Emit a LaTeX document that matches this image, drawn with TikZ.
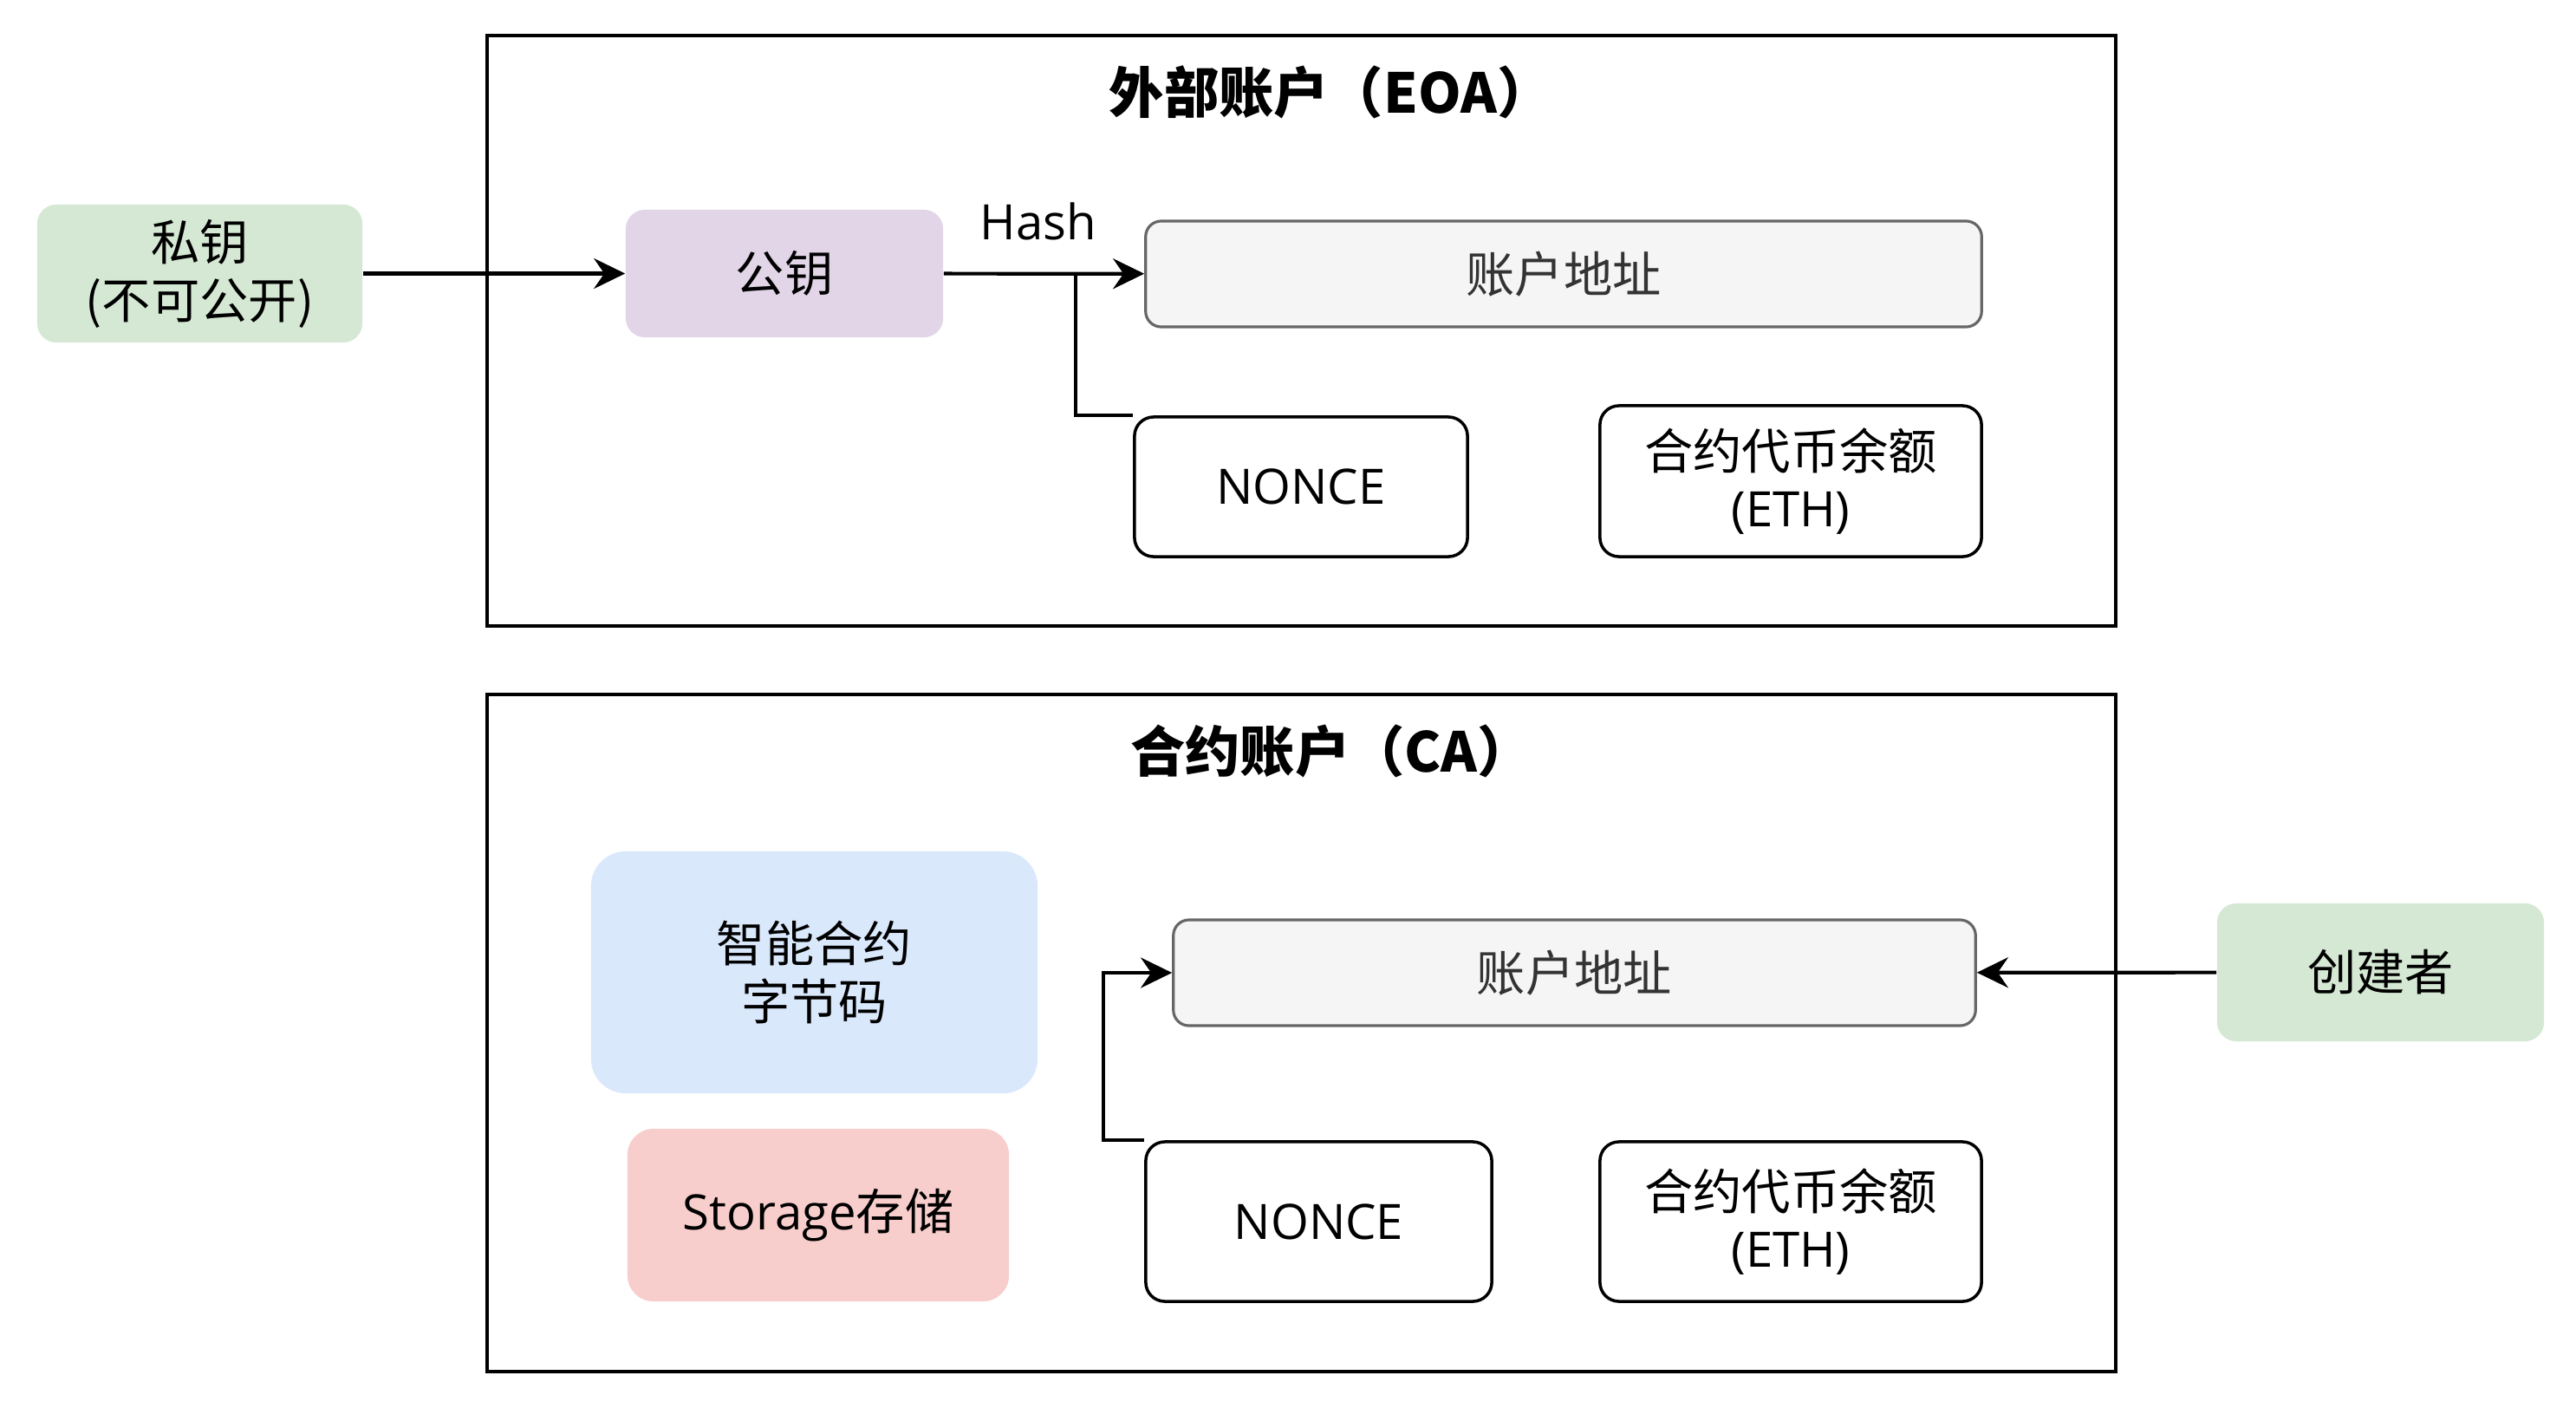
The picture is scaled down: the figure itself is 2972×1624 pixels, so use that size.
\documentclass[tikz,border=0pt]{standalone}
\usepackage{fontspec}
\setmainfont{Noto Sans CJK SC}
\newfontfamily\latinfont{Open Sans}
\usepackage{xcolor}
\usetikzlibrary{arrows.meta, positioning}

\definecolor{keygreen}{HTML}{D5E8D4}
\definecolor{keypurple}{HTML}{E1D5E7}
\definecolor{codeblue}{HTML}{DAE8FC}
\definecolor{storered}{HTML}{F8CECC}
\definecolor{addrfill}{HTML}{F5F5F5}
\definecolor{addrline}{HTML}{666666}
\definecolor{addrtext}{HTML}{333333}

\begin{document}
\begin{tikzpicture}[x=0.01cm, y=-0.01cm,
    every node/.style={font=\fontsize{16pt}{19pt}\selectfont, align=center, inner sep=0pt},
    box/.style={rounded corners=0.22cm, draw=black, line width=1pt, minimum width=#1},
    softbox/.style={rounded corners=0.22cm, minimum width=#1},
    addrbox/.style={rounded corners=0.18cm, draw=addrline, fill=addrfill, line width=0.9pt,
        text=addrtext, minimum width=#1, minimum height=1.22cm},
    title/.style={font=\fontsize{18pt}{22pt}\selectfont\bfseries},
    frame/.style={line width=1.2pt},
    arr/.style={line width=1.2pt, -{Stealth[length=3.6mm, width=3.5mm, inset=1.2mm]}},
    link/.style={line width=1.2pt}]
    \useasboundingbox (0,0) rectangle (2972,1624);

    % Externally owned account
    \draw[frame] (562,41) rectangle (2441,722);
    \node[title] (eoa title) at (1535,106) {外部账户（EOA）};
    \node[softbox=3.75cm, fill=keygreen, minimum height=1.59cm] (priv) at (230.5,315.5) {私钥\\(不可公开)};
    \node[softbox=3.66cm, fill=keypurple, minimum height=1.47cm] (pub) at (905,315.5) {公钥};
    \node[addrbox=9.64cm] (eoa addr) at (1804,316) {账户地址};
    \node[box=3.84cm, minimum height=1.61cm] (eoa nonce) at (1501,561.5) {\latinfont NONCE};
    \node[box=4.40cm, minimum height=1.74cm] (eoa bal) at (2066,555) {合约代币余额\\{\latinfont(ETH)}};
    \node (hash) at (1198,255) {\latinfont Hash};
    \coordinate (hash split) at (1241,316);

    \draw[arr] (priv) -- (pub);
    \draw[arr] (pub) -- (eoa addr);
    \draw[link] (eoa nonce.north west) -| (hash split);

    % Contract account
    \draw[frame] (562,801) rectangle (2441,1582);
    \node[title] (ca title) at (1536,866) {合约账户（CA）};
    \node[rounded corners=0.4cm, fill=codeblue, minimum width=5.15cm, minimum height=2.79cm] (code) at (939.5,1121.5) {智能合约\\字节码};
    \node[rounded corners=0.3cm, fill=storered, minimum width=4.40cm, minimum height=1.99cm] (store) at (944,1401.5) {{\latinfont Storage}存储};
    \node[addrbox=9.25cm] (ca addr) at (1816.5,1122) {账户地址};
    \node[box=3.99cm, minimum height=1.84cm] (ca nonce) at (1521.5,1409) {\latinfont NONCE};
    \node[box=4.40cm, minimum height=1.84cm] (ca bal) at (2066,1409) {合约代币余额\\{\latinfont(ETH)}};
    \node[softbox=3.77cm, fill=keygreen, minimum height=1.59cm] (creator) at (2746.5,1121.5) {创建者};

    \draw[arr] (ca nonce.north west) -- ++(-0.47cm,0) |- (ca addr.west);
    \draw[arr] (creator) -- (ca addr);
\end{tikzpicture}
\end{document}
